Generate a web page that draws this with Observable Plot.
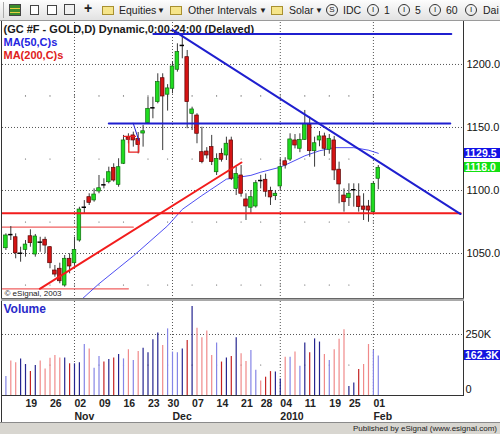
<!DOCTYPE html>
<html><head><meta charset="utf-8">
<script src="https://cdn.jsdelivr.net/npm/d3@7"></script>
<script src="https://cdn.jsdelivr.net/npm/@observablehq/plot@0.6"></script>
<style>
body{margin:0;background:#fff;overflow:hidden;}
#wrap{position:relative;width:500px;height:434px;overflow:hidden;background:#fff;font-family:"Liberation Sans",Arial,sans-serif;}
#toolbar{position:absolute;left:0;top:0;width:500px;height:20px;background:linear-gradient(#fdfdfd,#e2e2e2);border-bottom:1px solid #9a9a9a;}
.tb{position:absolute;top:4px;font-size:10.5px;color:#222;line-height:13px;white-space:nowrap;}
.ic{position:absolute;border:1px solid #444;box-sizing:border-box;}
.fold{position:absolute;top:6px;width:12px;height:9px;background:#f6e58a;border:1px solid #a89030;box-sizing:border-box;}
.circ{position:absolute;top:4px;width:12px;height:12px;border:1px solid #333;border-radius:50%;box-sizing:border-box;font-size:8px;line-height:10px;text-align:center;color:#222;}
.panel{position:absolute;left:0;}
.vbox{position:absolute;left:464px;width:36px;height:10px;color:#fff;font-size:10.5px;font-weight:bold;line-height:10px;padding-left:1px;box-sizing:border-box;white-space:nowrap;}
.line{position:absolute;background:#333;}
#status{position:absolute;left:0;top:422px;width:500px;height:12px;background:#d8d6d0;border-top:1px solid #8a8a8a;}
#status span{position:absolute;right:3px;top:0px;font-size:8px;line-height:11px;color:#222;}
</style></head>
<body><div id="wrap">
<div id="toolbar">
  <div class="ic" style="left:3px;top:2px;width:1px;height:16px;border:none;background:#aaa"></div>
  <div class="ic" style="left:9px;top:4px;width:12px;height:12px;background:linear-gradient(#3c8c2c 0 30%,#e8d040 30% 45%,#3c8c2c 45% 70%,#e8d040 70% 85%,#3c8c2c 85%)"></div>
  <div class="ic" style="left:30px;top:5px;width:9px;height:10px;background:#fff"></div>
  <div class="ic" style="left:47px;top:5px;width:10px;height:10px;background:#fff"></div>
  <div class="ic" style="left:64px;top:4px;width:11px;height:11px;background:#f0f0f0"></div>
  <div class="tb" style="left:84px;top:2px;font-size:14px;font-weight:bold">+</div>
  <div class="fold" style="left:102px"></div>
  <div class="tb" style="left:119px">Equities</div>
  <div class="tb" style="left:157px;font-size:8px">▼</div>
  <div class="fold" style="left:170px"></div>
  <div class="tb" style="left:188px">Other Intervals</div>
  <div class="tb" style="left:259px;font-size:8px">▼</div>
  <div class="fold" style="left:271px"></div>
  <div class="tb" style="left:289px">Solar</div>
  <div class="tb" style="left:315px;font-size:8px">▼</div>
  <div class="circ" style="left:326px">S</div>
  <div class="tb" style="left:343px">IDC</div>
  <div class="circ" style="left:367px">I</div>
  <div class="tb" style="left:384px">1</div>
  <div class="circ" style="left:398px">I</div>
  <div class="tb" style="left:415px">5</div>
  <div class="circ" style="left:429px">I</div>
  <div class="tb" style="left:446px">60</div>
  <div class="circ" style="left:465px">I</div>
  <div class="tb" style="left:483px">Dai</div>
</div>
<div id="main" class="panel" style="top:21px"></div>
<div id="vol" class="panel" style="top:301px"></div>
<div class="line" style="left:1px;top:21px;width:1px;height:401px"></div>
<div class="line" style="left:463px;top:21px;width:1px;height:375px"></div>
<div class="line" style="left:1px;top:298px;width:463px;height:3px;background:#a9a9a9;border-top:1px solid #666;box-sizing:border-box"></div>
<div id="status"><span>Published by eSignal (www.esignal.com)</span></div>
</div>
<script>
const FONT = "Liberation Sans, Arial, sans-serif";
// ---------- data ----------
const dates = [
"2009-10-13","2009-10-14","2009-10-15","2009-10-16","2009-10-19","2009-10-20","2009-10-21","2009-10-22","2009-10-23","2009-10-26",
"2009-10-27","2009-10-28","2009-10-29","2009-10-30","2009-11-02","2009-11-03","2009-11-04","2009-11-05","2009-11-06","2009-11-09",
"2009-11-10","2009-11-11","2009-11-12","2009-11-13","2009-11-16","2009-11-17","2009-11-18","2009-11-19","2009-11-20","2009-11-23",
"2009-11-24","2009-11-25","2009-11-27","2009-11-30","2009-12-01","2009-12-02","2009-12-03","2009-12-04","2009-12-07","2009-12-08",
"2009-12-09","2009-12-10","2009-12-11","2009-12-14","2009-12-15","2009-12-16","2009-12-17","2009-12-18","2009-12-21","2009-12-22",
"2009-12-23","2009-12-24","2009-12-28","2009-12-29","2009-12-30","2009-12-31","2010-01-04","2010-01-05","2010-01-06","2010-01-07",
"2010-01-08","2010-01-11","2010-01-12","2010-01-13","2010-01-14","2010-01-15","2010-01-19","2010-01-20","2010-01-21","2010-01-22",
"2010-01-25","2010-01-26","2010-01-27","2010-01-28","2010-01-29","2010-02-01","2010-02-02"];
const open = [1054.2,1065.0,1062.9,1050.2,1052.9,1063.7,1049.2,1059.0,1060.9,1055.0,
1036.5,1037.9,1024.6,1045.8,1042.3,1060.3,1086.7,1094.7,1092.1,1099.2,
1104.5,1106.6,1118.0,1104.5,1121.2,1142.1,1143.7,1141.0,1145.2,1153.4,
1165.6,1170.1,1189.1,1176.0,1180.7,1195.8,1215.1,1205.8,1160.8,1159.5,
1130.4,1130.9,1134.4,1114.5,1129.1,1127.8,1139.7,1101.3,1111.9,1092.9,
1086.3,1087.3,1107.9,1108.5,1099.5,1095.5,1103.2,1123.2,1124.5,1139.7,
1133.1,1140.2,1152.1,1131.2,1139.7,1142.9,1132.3,1139.7,1116.5,1096.0,
1093.9,1100.6,1095.2,1087.3,1087.3,1082.8,1109.3];
const high = [1065.6,1071.4,1065.6,1055.0,1060.3,1068.8,1065.1,1062.9,1062.9,1055.5,
1040.5,1042.3,1048.4,1049.8,1063.0,1086.7,1092.0,1097.4,1101.3,1111.9,
1109.3,1118.5,1121.2,1125.2,1143.7,1145.0,1146.3,1146.0,1151.6,1174.0,
1174.0,1192.6,1192.6,1184.0,1201.8,1216.4,1224.4,1211.1,1166.1,1160.9,
1150.2,1134.0,1143.7,1129.1,1133.1,1142.3,1142.3,1118.5,1119.8,1097.4,
1100.0,1107.9,1112.0,1113.0,1102.6,1100.0,1125.0,1126.0,1145.0,1144.4,
1145.0,1163.5,1158.2,1142.3,1146.8,1145.5,1144.4,1142.9,1122.5,1101.3,
1105.3,1105.3,1105.3,1097.4,1092.1,1106.6,1119.8];
const low = [1052.4,1060.3,1045.8,1043.1,1047.1,1055.0,1047.1,1051.0,1049.8,1037.9,
1031.2,1026.0,1023.3,1033.9,1040.5,1059.0,1081.5,1088.1,1090.7,1097.4,
1101.3,1105.3,1106.6,1102.6,1120.6,1137.0,1134.4,1129.0,1134.4,1152.9,
1156.9,1168.8,1131.7,1163.0,1176.7,1193.9,1204.5,1149.0,1147.6,1137.1,
1121.2,1125.0,1119.8,1111.9,1122.5,1123.8,1107.9,1096.0,1094.7,1076.2,
1081.5,1086.0,1101.3,1094.7,1088.1,1092.0,1100.0,1117.0,1123.0,1133.0,
1130.0,1139.7,1126.4,1118.5,1134.7,1127.0,1128.8,1107.9,1089.4,1082.8,
1087.3,1086.8,1082.8,1076.2,1074.8,1081.5,1100.6];
const close = [1064.3,1065.0,1050.2,1050.2,1057.1,1058.2,1063.5,1059.0,1056.3,1042.3,
1033.3,1028.0,1045.8,1039.7,1052.9,1084.9,1086.7,1090.2,1096.8,1101.8,
1104.5,1114.5,1107.9,1118.5,1139.7,1140.2,1139.7,1136.0,1147.0,1164.8,
1165.6,1186.0,1174.6,1181.0,1198.4,1209.8,1215.1,1170.1,1164.3,1145.0,
1122.5,1127.8,1122.5,1125.1,1124.4,1137.1,1109.3,1113.2,1097.4,1087.3,
1094.7,1105.8,1107.9,1099.0,1094.5,1097.4,1118.5,1119.8,1140.5,1135.7,
1140.2,1152.9,1131.2,1137.5,1142.9,1133.1,1141.0,1115.9,1104.8,1090.7,
1097.4,1100.6,1086.8,1084.7,1084.1,1105.3,1118.0];
// volume in thousands
const volume = [78,141,134,150,127,98,123,141,109,153,
164,154,154,130,130,134,209,191,112,160,
137,148,154,168,150,187,143,180,194,175,
228,256,205,273,178,175,191,225,365,276,
237,264,164,215,137,154,160,237,171,139,
184,103,59,75,98,96,68,157,157,178,
120,215,175,232,219,168,143,187,230,269,
37,51,107,127,209,184,162.3];
// B = dark blue, b = light blue, R = dark red, r = light red
const volColor = ["b","r","r","B","B","R","B","r","r","r",
"r","r","B","R","B","B","b","r","b","b",
"R","B","R","B","b","r","b","r","B","B",
"B","B","r","b","b","b","B","R","B","r",
"r","r","r","b","R","B","R","B","r","r",
"b","b","r","R","R","B","B","r","b","r",
"b","B","R","B","B","r","b","r","r","r",
"B","B","R","r","r","b","b"];
// MA(50) readings
const maDates = ["2009-11-03","2009-11-09","2009-11-18","2009-11-30","2009-12-03","2009-12-09","2009-12-16","2009-12-23","2009-12-28","2010-01-04","2010-01-06","2010-01-11","2010-01-14","2010-01-20","2010-01-26","2010-01-29","2010-02-02"];
const maValues = [1012,1026,1048,1072,1085,1096,1109,1112,1114.5,1118.5,1122,1127.5,1131.5,1134,1134,1132,1129.5];
// axis ticks
const priceTicks = [1050,1100,1150,1200];
const minorPrices = [1025,1075,1125,1175];
const tickDates = ["2009-10-19","2009-10-26","2009-11-02","2009-11-09","2009-11-16","2009-11-23","2009-11-30","2009-12-07","2009-12-14","2009-12-21","2009-12-28","2010-01-04","2010-01-11","2010-01-19","2010-01-25","2010-02-01"];
const tickLabels = ["19","26","02","09","16","23","30","07","14","21","28","04","11","19","25","01"];
const monthDates = ["2009-11-02","2009-12-01","2010-01-04","2010-02-01"];
const monthLabels = ["Nov","Dec","2010","Feb"];
const volTicks = [250];
// drawn studies: [bar position, price]
const blueTop = [[30.1,1224.2],[90.9,1224.2]];
const blueMid = [[21.0,1153.2],[90.7,1153.2]];
const blueDown = [[34.0,1227.4],[92.8,1081.3]];
const blueSmall = [[25.98,1153.4],[27.12,1139.7]];
const redFlat = [[-0.7,1082.0],[92.8,1082.0]];
const redUp = [[6.92,1022.0],[48.08,1122.2]];
const redThin1 = [[-0.7,1070.9],[26.0,1070.9]];
const redThin2 = [[-0.7,1022.0],[25.0,1022.0]];
const redBoxA = [[24.06,1142.9],[26.45,1142.9]];
const redBoxB = [[25.08,1142.9],[25.08,1130.4],[27.12,1130.4],[27.12,1141.3]];

// ---------- derived ----------
const pos = d => dates.indexOf(d);
const candles = dates.map((d,i)=>({i, o:open[i], h:high[i], l:low[i], c:close[i]}));
const ups = candles.filter(d=>d.c>d.o), downs = candles.filter(d=>d.c<d.o), dojis = candles.filter(d=>d.c===d.o);
const ma = maDates.map((d,k)=>({i:pos(d), v:maValues[k]}));
const ticks = tickDates.map((d,k)=>({i:pos(d), label:tickLabels[k]}));
const months = monthDates.map((d,k)=>({i:pos(d), label:monthLabels[k]}));
const minorGrid = ticks.flatMap(t=>minorPrices.map(p=>({i:t.i, p})));
const volMinor = ticks.map(t=>({i:t.i, v:125}));
const toPts = (arr,id)=>arr.map(([i,p])=>({i,p,id}));
const blueStudies = [...toPts(blueTop,"a"),...toPts(blueMid,"b"),...toPts(blueDown,"c")];
const redStudies = [...toPts(redFlat,"a"),...toPts(redUp,"b")];
const thinRed = [...toPts(redThin1,"a"),...toPts(redThin2,"b")];
const boxRed = [...toPts(redBoxA,"a"),...toPts(redBoxB,"b")];
const smallBlue = toPts(blueSmall,"a");
const VCOL = {B:"#25258f", b:"#8585e6", R:"#c42323", r:"#f08a8a"};
const bars = volume.map((v,i)=>({i, v, col:VCOL[volColor[i]]}));

const X_DOMAIN = [-0.694, 93.39];
const dotted = {stroke:"#555", strokeDasharray:"1,2", strokeWidth:1};

const main = Plot.plot({
  width:500, height:277, marginLeft:2, marginRight:37, marginTop:1, marginBottom:0,
  style:{fontFamily:FONT, fontSize:"11px", background:"transparent", overflow:"visible"},
  x:{type:"linear", domain:X_DOMAIN, axis:null},
  y:{domain:[1014.3,1233.3], axis:null},
  marks:[
    Plot.dot(minorGrid, {x:"i", y:"p", r:0.6, fill:"#555", stroke:null}),
    Plot.ruleY(priceTicks, dotted),
    Plot.ruleX(months, {x:"i", ...dotted}),
    Plot.axisY(priceTicks, {anchor:"right", tickSize:0, tickPadding:3, tickFormat:d3.format(".1f"), fontSize:11, fill:"#111"}),
    Plot.text(["(GC #F - GOLD,D) Dynamic,0:00-24:00 (Delayed)"], {frameAnchor:"top-left", dx:1, dy:7, lineAnchor:"middle", textAnchor:"start", fontWeight:"bold", fontSize:11, fill:"#1a1a1a", ariaLabel:"title"}),
    Plot.text(["MA(50,C)s"], {frameAnchor:"top-left", dx:1, dy:20, lineAnchor:"middle", textAnchor:"start", fontWeight:"bold", fontSize:11, fill:"#2424e0", ariaLabel:"ma50"}),
    Plot.text(["MA(200,C)s"], {frameAnchor:"top-left", dx:1, dy:33, lineAnchor:"middle", textAnchor:"start", fontWeight:"bold", fontSize:11, fill:"#e02020", ariaLabel:"ma200"}),
    Plot.text(["© eSignal, 2003"], {frameAnchor:"bottom-left", dx:2, dy:-5, lineAnchor:"middle", textAnchor:"start", fontSize:8, fill:"#222"}),
    Plot.line(thinRed, {x:"i", y:"p", z:"id", stroke:"#f06060", strokeWidth:1.2}),
    Plot.line(ma, {x:"i", y:"v", stroke:"#3a3af0", strokeWidth:0.9, clip:true}),
    Plot.ruleX(candles, {x:"i", y1:"l", y2:"h", stroke:"#3a3a3a", strokeWidth:1}),
    Plot.rect(ups, {x1:d=>d.i-0.37, x2:d=>d.i+0.37, y1:"o", y2:"c", fill:"#1fdc1f", stroke:"#0d6b0d", strokeWidth:0.7}),
    Plot.rect(downs, {x1:d=>d.i-0.37, x2:d=>d.i+0.37, y1:"o", y2:"c", fill:"#d41414", stroke:"#5a0505", strokeWidth:0.7}),
    Plot.ruleY(dojis, {y:"c", x1:d=>d.i-0.45, x2:d=>d.i+0.45, stroke:"#000", strokeWidth:1.5}),
    Plot.line(boxRed, {x:"i", y:"p", z:"id", stroke:"#e82020", strokeWidth:1.3}),
    Plot.line(smallBlue, {x:"i", y:"p", stroke:"#2020d0", strokeWidth:1}),
    Plot.line(redStudies, {x:"i", y:"p", z:"id", stroke:"#f21c1c", strokeWidth:2}),
    Plot.line(blueStudies, {x:"i", y:"p", z:"id", stroke:"#1f1fcf", strokeWidth:2})
  ]
});
document.getElementById("main").appendChild(main);

const vol = Plot.plot({
  width:500, height:121, marginLeft:2, marginRight:37, marginTop:0, marginBottom:27,
  style:{fontFamily:FONT, fontSize:"11px", background:"transparent", overflow:"visible"},
  x:{type:"linear", domain:X_DOMAIN, axis:null},
  y:{domain:[0,385.2], axis:null},
  color:{type:"identity"},
  marks:[
    Plot.dot(volMinor, {x:"i", y:"v", r:0.6, fill:"#555", stroke:null}),
    Plot.ruleY(volTicks, dotted),
    Plot.ruleX(months, {x:"i", ...dotted}),
    Plot.ruleX(bars, {x:"i", y1:0, y2:"v", stroke:"col", strokeWidth:1.2}),
    Plot.ruleY([0], {stroke:"#333", strokeWidth:1}),
    Plot.text(["Volume"], {frameAnchor:"top-left", dx:1, dy:8, lineAnchor:"middle", textAnchor:"start", fontWeight:"bold", fontSize:12, fill:"#2929c9"}),
    Plot.text(volTicks, {y:d=>d, text:d=>d+"K", frameAnchor:"right", dx:2, textAnchor:"start", fontSize:11, fill:"#111"}),
    Plot.text([0], {y:d=>d, text:d=>String(d), frameAnchor:"right", dx:2, dy:-6, textAnchor:"start", fontSize:11, fill:"#111"}),
    Plot.text(ticks, {x:"i", text:"label", frameAnchor:"bottom", dy:8, lineAnchor:"middle", textAnchor:"start", fontWeight:"bold", fontSize:10.5, fill:"#222"}),
    Plot.text(months, {x:"i", text:"label", frameAnchor:"bottom", dy:21, lineAnchor:"middle", textAnchor:"start", fontWeight:"bold", fontSize:10.5, fill:"#222"})
  ]
});
document.getElementById("vol").appendChild(vol);

// compress header texts to the original widths
const fit = (svg, label, w) => d3.select(svg).selectAll(`g[aria-label="${label}"] text`).attr("textLength", w).attr("lengthAdjust", "spacingAndGlyphs");
fit(main, "title", 240); fit(main, "ma50", 50); fit(main, "ma200", 55);

// value boxes on the price/volume scales
const wrap = document.getElementById("wrap");
function vbox(txt, y, bg) {
  const d = document.createElement("div");
  d.className = "vbox"; d.style.top = (y - 5) + "px"; d.style.background = bg; d.textContent = txt;
  wrap.appendChild(d);
}
const yMain = main.scale("y"), yVol = vol.scale("y");
const lastMA = maValues[maValues.length-1], lastClose = close[close.length-1], lastVol = volume[volume.length-1];
vbox(d3.format(".1f")(lastMA), 21 + yMain.apply(lastMA), "#1212e6");
vbox(d3.format(".1f")(lastClose), 21 + yMain.apply(lastClose), "#12e012");
vbox(d3.format(".1f")(lastVol) + "K", 301 + yVol.apply(lastVol), "#1515e0");
</script>
</body></html>
